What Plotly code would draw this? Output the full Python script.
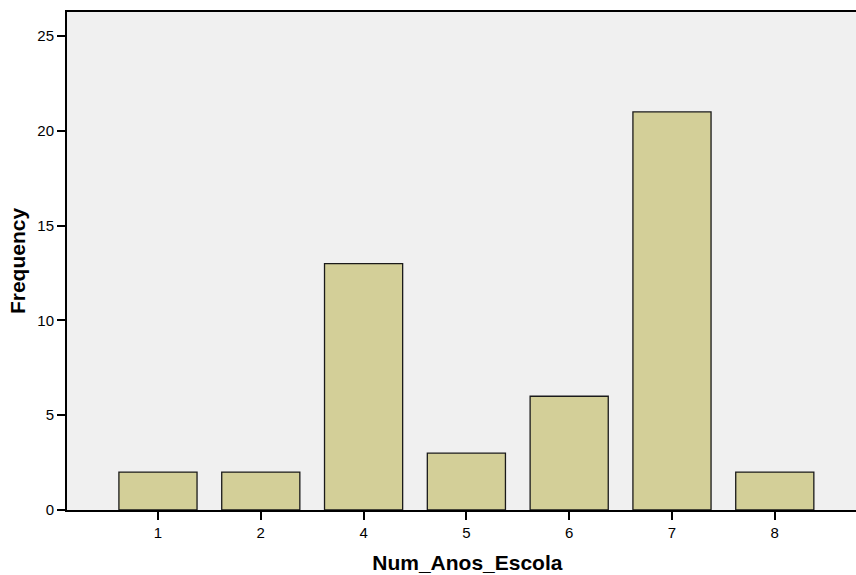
import plotly.graph_objects as go

categories = ["1", "2", "4", "5", "6", "7", "8"]
frequency = [2, 2, 13, 3, 6, 21, 2]
x_title = "Num_Anos_Escola"
y_title = "Frequency"

fig = go.Figure(
    go.Bar(
        x=categories,
        y=frequency,
        width=0.76,
        marker=dict(color="#D3CF98", line=dict(color="#1a1a1a", width=1.3)),
        hoverinfo="x+y",
    )
)

fig.update_layout(
    width=856,
    height=575,
    margin=dict(l=67, r=0, t=12, b=65),
    paper_bgcolor="white",
    plot_bgcolor="#F0F0F0",
    font=dict(family="Liberation Sans, Arial, sans-serif", color="black", size=15),
    showlegend=False,
)

fig.update_xaxes(
    type="category",
    range=[-0.885, 6.79],
    showline=True,
    linecolor="black",
    linewidth=2,
    mirror=True,
    ticks="outside",
    ticklen=8,
    tickwidth=2,
    tickcolor="black",
    showgrid=False,
    tickfont=dict(size=15, color="black"),
    title=dict(text=f"&nbsp;&nbsp;<b>{x_title}</b>", font=dict(size=21), standoff=15),
)

fig.update_yaxes(
    range=[0, 26.27],
    tickvals=[0, 5, 10, 15, 20, 25],
    showline=True,
    linecolor="black",
    linewidth=2,
    ticks="outside",
    ticklen=8,
    tickwidth=2,
    tickcolor="black",
    showgrid=False,
    zeroline=False,
    tickfont=dict(size=15, color="black"),
    title=dict(text=f"<b>{y_title}</b>", font=dict(size=21), standoff=6),
)

fig.write_html(
    "out.html",
    config={"displayModeBar": False},
    post_script="document.body.style.margin='0';document.body.style.overflow='hidden';",
)
